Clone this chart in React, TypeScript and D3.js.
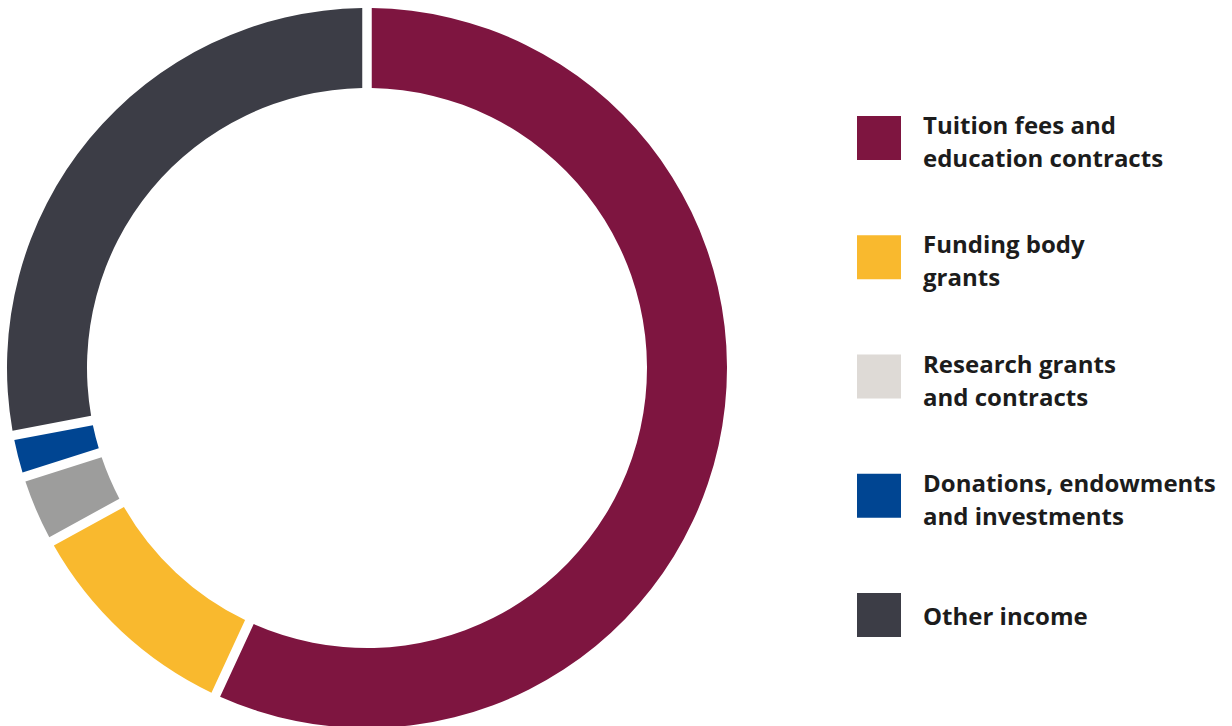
import React from "react";
import * as d3 from "d3";

const categories = [
  "Tuition fees and|education contracts",
  "Funding body|grants",
  "Research grants|and contracts",
  "Donations, endowments|and investments",
  "Other income",
];
const values = [56.9, 10.1, 3.1, 1.9, 28.0];
const sliceColors = ["#7e1540", "#f9b92e", "#9d9d9c", "#004592", "#3c3d46"];
const legendColors = ["#7e1540", "#f9b92e", "#dedad6", "#004592", "#3c3d46"];

export default function App() {
  const W = 1232;
  const H = 726;
  const cx = 367;
  const cy = 368;
  const outerR = 360;
  const innerR = 280;
  const gap = 9.5;

  const pie = d3
    .pie<number>()
    .sort(null)
    .value((d) => d)
    .startAngle(0)
    .endAngle(2 * Math.PI);
  const arcs = pie(values);
  const arc = d3
    .arc<d3.PieArcDatum<number>>()
    .innerRadius(innerR)
    .outerRadius(outerR)
    .padAngle(gap / outerR)
    .padRadius(outerR);

  const legendY = d3.scaleLinear().domain([0, 4]).range([138, 615]);

  return (
    <svg
      width={W}
      height={H}
      style={{ position: "absolute", left: 0, top: 0, display: "block" }}
    >
      <rect width={W} height={H} fill="#ffffff" />
      <g transform={`translate(${cx},${cy})`}>
        {arcs.map((a, i) => (
          <path key={i} d={arc(a) || ""} fill={sliceColors[i]} />
        ))}
      </g>
      <g>
        {categories.map((c, i) => {
          const y = legendY(i);
          const lines = c.split("|");
          return (
            <g key={i}>
              <rect x={857} y={y - 22} width={44} height={44} fill={legendColors[i]} />
              {lines.map((l, j) => (
                <text
                  key={j}
                  x={923}
                  y={y + (lines.length === 1 ? 10 : j * 33 - 4)}
                  fontFamily="'Open Sans', sans-serif"
                  fontWeight={700}
                  fontSize={24}
                  fill="#1c1c1c"
                >
                  {l}
                </text>
              ))}
            </g>
          );
        })}
      </g>
    </svg>
  );
}
